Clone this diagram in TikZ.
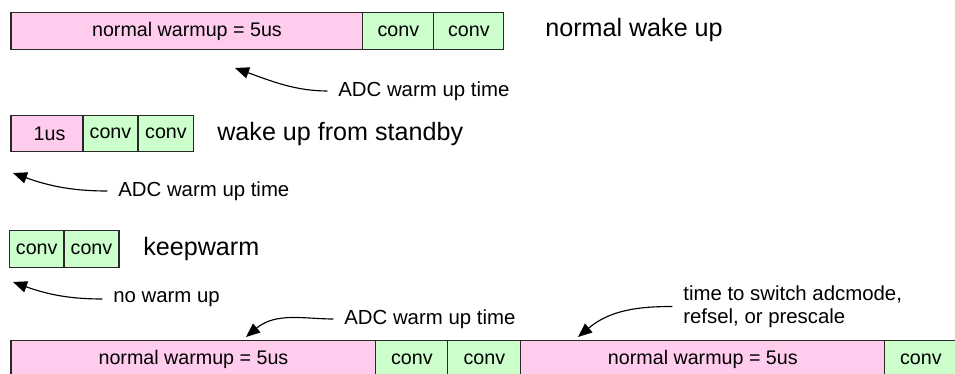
\documentclass[tikz,border=0pt]{standalone}
\usepackage{fontspec}
\setmainfont{Liberation Sans}
\usetikzlibrary{arrows.meta, positioning}

\definecolor{warmpink}{RGB}{255,204,238}
\definecolor{convgreen}{RGB}{204,255,204}
\definecolor{edgegray}{RGB}{40,40,40}

\begin{document}
\begin{tikzpicture}[
    x=0.02cm, y=-0.02cm,
    seg/.style={rectangle, draw=edgegray, line width=0.6pt, minimum height=0.73cm, inner sep=0pt, outer sep=0pt, anchor=west, font=\fontsize{11.2}{13}\selectfont},
    warm/.style={seg, fill=warmpink},
    conv/.style={seg, fill=convgreen, minimum width=1.42cm},
    title/.style={anchor=west, inner sep=0pt, font=\fontsize{14.3}{17}\selectfont},
    note/.style={anchor=west, inner sep=0pt, align=left, font=\fontsize{11.6}{13.2}\selectfont},
    pointer/.style={line width=0.65pt, shorten <=6pt, -{Triangle[length=8pt,width=6.5pt]}}
]
\clip (0,0) rectangle (955,374);

% Normal wake up
\node[warm, minimum width=7.04cm] (w1) at (11,31) {normal warmup = 5us};
\node[conv, right=0pt of w1] (c1a) {conv};
\node[conv, minimum width=1.40cm, right=0pt of c1a] (c1b) {conv};
\node[title] (t1) at (545,30) {normal wake up};

% Wake up from standby
\node[warm, minimum width=1.44cm] (w2) at (11,133.5) {\hspace{0.1cm}1us};
\node[conv, minimum width=1.10cm, right=0pt of w2] (c2a) {conv};
\node[conv, minimum width=1.12cm, right=0pt of c2a] (c2b) {conv};
\node[title] (t2) at (217,134) {wake up from standby};

% Keepwarm
\node[conv, minimum width=1.09cm] (c3a) at (9.5,249) {conv};
\node[conv, minimum width=1.10cm, right=0pt of c3a] (c3b) {conv};
\node[title] (t3) at (143,249) {keepwarm};

% Switching
\node[warm, minimum width=7.30cm] (w4a) at (11,359) {normal warmup = 5us};
\node[conv, minimum width=1.44cm, right=0pt of w4a] (c4a) {conv};
\node[conv, minimum width=1.46cm, right=0pt of c4a] (c4b) {conv};
\node[warm, minimum width=7.28cm, right=0pt of c4b] (w4b) {normal warmup = 5us};
\node[conv, minimum width=1.44cm, right=0pt of w4b] (c4c) {conv};

% Notes
\node[note] (n1) at (338,91) {ADC warm up time};
\node[note] (n2) at (118,191) {ADC warm up time};
\node[note] (n3) at (113,299) {no warm up};
\node[note] (n4) at (344,319) {ADC warm up time};
\node[note] (n5) at (683,306.5) {time to switch adcmode,\\refsel, or prescale};

\coordinate (p1) at (235,68);
\coordinate (p2) at (13,173);
\coordinate (p3) at (13,282);
\coordinate (p4) at (246,337);
\coordinate (p5) at (578,337);

% Pointers
\draw[pointer] (n1.west) to[out=180,in=-20] (p1);
\draw[pointer] (n2.west) to[out=180,in=-20] (p2);
\draw[pointer] (n3.west) to[out=180,in=-20] (p3);
\draw[pointer] (n4.west) to[out=180,in=40] (p4);
\draw[pointer] (n5.west) to[out=180,in=40] (p5);

\end{tikzpicture}
\end{document}
